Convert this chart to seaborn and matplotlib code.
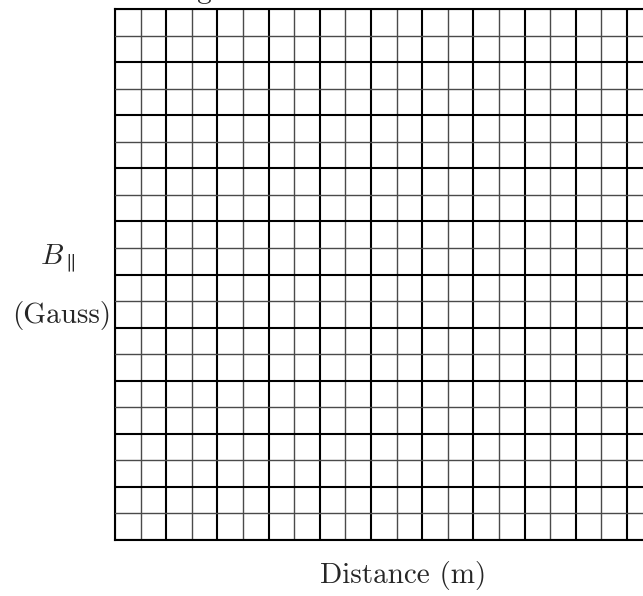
import numpy as np
import matplotlib
matplotlib.use("Agg")
import matplotlib.pyplot as plt
import seaborn as sns

# blank graph paper: distance along x, field along y
distance_minor = list(range(0, 25))
distance_major = list(range(0, 25, 2))
field_minor = list(range(0, 21))
field_major = list(range(0, 21, 2))

title_text = "Magnetic field"
x_label = "Distance (m)"
y_label_top = r"$B_\parallel$"
y_label_bottom = "(Gauss)"

sns.set_theme(style="white")
plt.rcParams["font.family"] = ["cmr10", "DejaVu Serif"]
plt.rcParams["mathtext.fontset"] = "cm"
plt.rcParams["axes.unicode_minus"] = False

fig = plt.figure(figsize=(6.43, 5.96), dpi=100)
W, H = 643, 596
left, top, bottom = 115, 9, 540
col = 25.6
ax = fig.add_axes([left / W, 1 - bottom / H, col * len(distance_minor[1:]) / W, (bottom - top) / H])

ax.set_xlim(distance_minor[0], distance_minor[-1])
ax.set_ylim(field_minor[0], field_minor[-1])
ax.set_xticks(distance_major)
ax.set_xticks(distance_minor, minor=True)
ax.set_yticks(field_major)
ax.set_yticks(field_minor, minor=True)
ax.grid(which="minor", color="#4a4a4a", linewidth=1.0)
ax.grid(which="major", color="black", linewidth=1.5)
ax.tick_params(which="both", length=0, labelbottom=False, labelleft=False)
ax.set_axisbelow(False)
for s in ax.spines.values():
    s.set_color("black")
    s.set_linewidth(1.5)

fs = 21
fig.text(156 / W, 1 + 1.6 / H, title_text, fontsize=fs, ha="left", va="baseline")
fig.text(403 / W, 1 - 575 / H, x_label, fontsize=fs, ha="center", va="center")
fig.text(58 / W, 1 - 258 / H, y_label_top, fontsize=fs, ha="center", va="center")
fig.text(62 / W, 1 - 316 / H, y_label_bottom, fontsize=fs, ha="center", va="center")

fig.savefig("out.png", dpi=100)
